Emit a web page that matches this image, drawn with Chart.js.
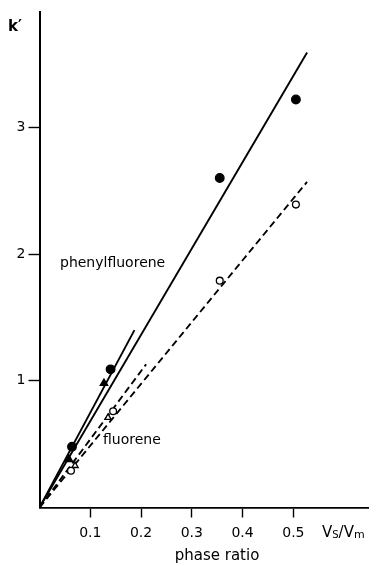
<!DOCTYPE html>
<html><head><meta charset="utf-8">
<script src="https://cdn.jsdelivr.net/npm/chart.js@4"></script>
<style>html,body{margin:0;padding:0;background:#fff}canvas{display:block}</style>
</head><body>
<canvas id="c" width="376" height="566"></canvas>
<script>
// ---- data ----
const xTickValues = [0.1, 0.2, 0.3, 0.4, 0.5];
const yTickValues = [1, 2, 3];
const xMin = 0, xMax = 0.647, yMin = 0, yMax = 3.91;

// phenylfluorene (filled symbols)
const phenylCircleX = [0.064, 0.14, 0.355, 0.505];
const phenylCircleY = [0.48, 1.09, 2.60, 3.22];
const phenylTriX = [0.058, 0.127];
const phenylTriY = [0.38, 0.98];
// fluorene (open symbols)
const fluoreneCircleX = [0.062, 0.145, 0.355, 0.505];
const fluoreneCircleY = [0.29, 0.76, 1.79, 2.39];
const fluoreneTriX = [0.07, 0.135];
const fluoreneTriY = [0.33, 0.71];
// fitted lines (through origin)
const phenylLongX = [0, 0.527], phenylLongY = [0, 3.59];
const phenylShortX = [0, 0.187], phenylShortY = [0, 1.40];
const fluoreneLongX = [0, 0.527], fluoreneLongY = [0, 2.57];
const fluoreneShortX = [0, 0.21], fluoreneShortY = [0, 1.13];

const pts = (xs, ys) => xs.map((x, i) => ({x: x, y: ys[i]}));
const FONT = "'DejaVu Sans', 'Liberation Sans', sans-serif";

function lineDs(xs, ys, dashed) {
  return {type: 'line', data: pts(xs, ys), borderColor: '#000', borderWidth: 1.9,
    borderDash: dashed ? [7, 4] : [], pointRadius: 0, fill: false, tension: 0, order: 2};
}
function markDs(xs, ys, style, filled, r) {
  return {type: 'scatter', data: pts(xs, ys), pointStyle: style, pointRadius: r,
    backgroundColor: filled ? '#000' : '#fff', borderColor: '#000', borderWidth: 1.3, order: 1};
}

const textPlugin = {
  id: 'texts',
  afterDraw(chart) {
    const ctx = chart.ctx;
    ctx.save();
    ctx.fillStyle = '#000';
    ctx.textBaseline = 'middle';
    ctx.textAlign = 'left';
    ctx.font = "bold 15px " + FONT;
    ctx.fillText("k\u2032", 8, 27);
    ctx.font = "14px " + FONT;
    ctx.fillText("phenylfluorene", 60, 263);
    ctx.fillText("fluorene", 103, 440);
    ctx.font = "15px " + FONT;
    ctx.textAlign = 'center';
    ctx.fillText("phase ratio", 217, 556);
    // Vs/Vm
    ctx.textAlign = 'left';
    ctx.textBaseline = 'alphabetic';
    let x = 322; const base = 537;
    ctx.font = "15px " + FONT; ctx.fillText("V", x, base); x += ctx.measureText("V").width;
    ctx.font = "10px " + FONT; ctx.fillText("S", x, base + 1); x += ctx.measureText("S").width;
    ctx.font = "15px " + FONT; ctx.fillText("/V", x, base); x += ctx.measureText("/V").width;
    ctx.font = "11px " + FONT; ctx.fillText("m", x, base + 1);
    ctx.restore();
  }
};

new Chart(document.getElementById('c'), {
  type: 'scatter',
  data: {datasets: [
    lineDs(phenylLongX, phenylLongY, false),
    lineDs(phenylShortX, phenylShortY, false),
    lineDs(fluoreneLongX, fluoreneLongY, true),
    lineDs(fluoreneShortX, fluoreneShortY, true),
    markDs(phenylCircleX, phenylCircleY, 'circle', true, 4.3),
    markDs(phenylTriX, phenylTriY, 'triangle', true, 4.3),
    markDs(fluoreneCircleX, fluoreneCircleY, 'circle', false, 3.4),
    markDs(fluoreneTriX, fluoreneTriY, 'triangle', false, 3.6)
  ]},
  options: {
    responsive: false, animation: false,
    layout: {padding: {top: 12, right: 8, left: 0, bottom: 0}},
    plugins: {legend: {display: false}, tooltip: {enabled: false}},
    scales: {
      x: {
        type: 'linear', position: 'bottom', min: xMin, max: xMax,
        afterBuildTicks: s => { s.ticks = xTickValues.map(v => ({value: v})); },
        afterFit: s => { s.height = 58.5; },
        ticks: {color: '#000', font: {family: FONT, size: 14}, padding: 7,
          maxRotation: 0, autoSkip: false, callback: v => String(v)},
        grid: {drawOnChartArea: false, drawTicks: true, tickLength: 10, tickColor: '#000', tickWidth: 1.4},
        border: {display: true, color: '#000', width: 1.8}
      },
      y: {
        type: 'linear', position: 'left', min: yMin, max: yMax,
        afterBuildTicks: s => { s.ticks = yTickValues.map(v => ({value: v})); },
        afterFit: s => { s.width = 39.5; },
        ticks: {color: '#000', font: {family: FONT, size: 14}, padding: 3,
          autoSkip: false, callback: v => String(v)},
        grid: {drawOnChartArea: false, drawTicks: true, tickLength: 11, tickColor: '#000', tickWidth: 1.4},
        border: {display: true, color: '#000', width: 2}
      }
    }
  },
  plugins: [textPlugin]
});
</script>
</body></html>
